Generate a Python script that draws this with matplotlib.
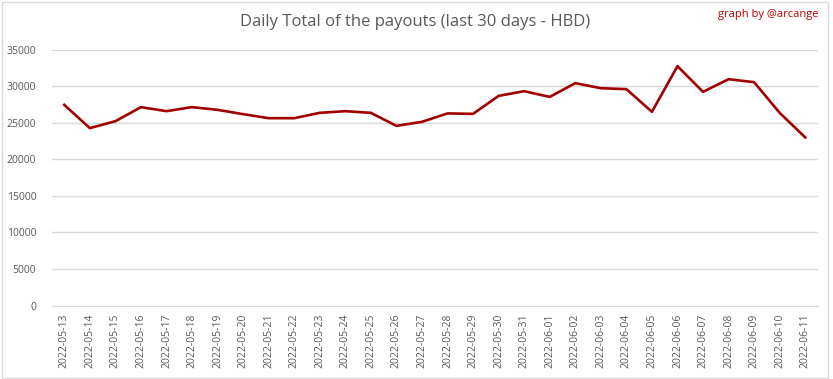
import matplotlib
matplotlib.use("Agg")
import matplotlib.pyplot as plt
from matplotlib.patches import Rectangle

dates = ["2022-05-13", "2022-05-14", "2022-05-15", "2022-05-16", "2022-05-17",
         "2022-05-18", "2022-05-19", "2022-05-20", "2022-05-21", "2022-05-22",
         "2022-05-23", "2022-05-24", "2022-05-25", "2022-05-26", "2022-05-27",
         "2022-05-28", "2022-05-29", "2022-05-30", "2022-05-31", "2022-06-01",
         "2022-06-02", "2022-06-03", "2022-06-04", "2022-06-05", "2022-06-06",
         "2022-06-07", "2022-06-08", "2022-06-09", "2022-06-10", "2022-06-11"]
payouts = [27430, 24250, 25200, 27120, 26570, 27120, 26750, 26160, 25610, 25610,
           26340, 26570, 26340, 24560, 25110, 26260, 26200, 28660, 29300, 28520,
           30400, 29710, 29580, 26480, 32720, 29210, 30940, 30530, 26340, 22980]
yticks = [0, 5000, 10000, 15000, 20000, 25000, 30000, 35000]

plt.rcParams['font.family'] = ['Open Sans', 'DejaVu Sans']

W, H = 833, 379
fig = plt.figure(figsize=(W / 100, H / 100), dpi=100)
ax = fig.add_axes([51.5 / W, 1 - 305.5 / H, (818 - 51.5) / W, (305.5 - 49.5) / H])

x = list(range(len(dates)))
ax.plot(x, payouts, color="#A00000", linewidth=1.9, solid_joinstyle="round")
ax.set_xlim(-0.5, len(dates) - 0.5)
ax.set_ylim(0, 35000)
ax.set_yticks(yticks)
ax.set_yticklabels([str(v) for v in yticks])
ax.set_xticks(x)
ax.set_xticklabels(dates, rotation=90)
ax.grid(axis="y", color="#D9D9D9", linewidth=1)
ax.set_axisbelow(True)
for s in ["top", "right", "left"]:
    ax.spines[s].set_visible(False)
ax.spines["bottom"].set_color("#D9D9D9")
ax.tick_params(axis="both", length=0, colors="#595959", labelsize=7.5)
ax.tick_params(axis="y", pad=11)
ax.tick_params(axis="x", pad=6)

fig.text(415 / W, 1 - 22 / H, "Daily Total of the payouts (last 30 days - HBD)",
         ha="center", va="center", fontsize=12, color="#595959")
fig.text(818 / W, 1 - 15 / H, "graph by @arcange", ha="right", va="center",
         fontsize=8, color="#C00000")

fig.patches.append(Rectangle((1.5 / W, 1.5 / H), 826.5 / W, (H - 3) / H,
                             transform=fig.transFigure, fill=False,
                             edgecolor="#D9D9D9", linewidth=1))

fig.savefig("out.png", dpi=100, facecolor="white")
